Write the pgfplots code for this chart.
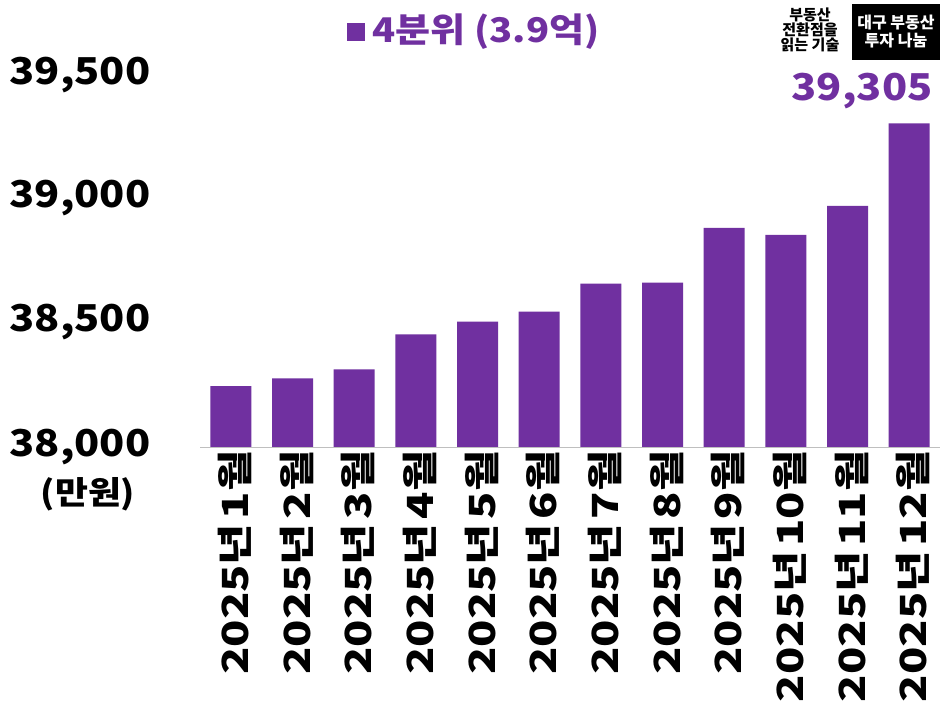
\documentclass[border=0pt]{standalone}
\usepackage{fontspec}
\setmainfont{Noto Sans CJK KR}
\newfontfamily\krw{Noto Sans CJK KR}[FakeStretch=1.25]
\newfontfamily\krn{Noto Sans CJK KR}[FakeStretch=1.12]
\usepackage{pgfplots}
\pgfplotsset{compat=1.18}
\definecolor{pur}{HTML}{7030A0}
\newcommand\s{\hspace{0.12em}}
\begin{document}
\begin{tikzpicture}[x=1pt,y=1pt]
\useasboundingbox[fill=white] (0,0) rectangle (951,712);
\begin{axis}[at={(200pt,265pt)},anchor=south west,scale only axis,width=740pt,height=372pt,
 ymin=38000,ymax=39500,xmin=-0.5,xmax=11.5,
 axis y line=none, axis x line*=bottom, x axis line style={gray!50,-},
 ytick={38000,38500,39000,39500}, xtick=data, major tick length=0pt,
 xticklabels={2025년\s1월,2025년\s2월,2025년\s3월,2025년\s4월,2025년\s5월,2025년\s6월,2025년\s7월,2025년\s8월,2025년\s9월,2025년\s10월,2025년\s11월,2025년\s12월},
 xticklabel style={rotate=90,anchor=east,font=\krw\fontsize{36}{36}\selectfont\bfseries,yshift=-4pt},
 /pgf/number format/assume math mode=true,
 clip=false]
\addplot[ybar,bar width=41pt,fill=pur,draw=none] coordinates {
(0,38245)(1,38277)(2,38313)(3,38454)(4,38506)(5,38546)(6,38659)(7,38663)(8,38884)(9,38855)(10,38972)(11,39305)};
\end{axis}
\node[anchor=east,text=pur,font=\krn\fontsize{37}{37}\selectfont\bfseries] at (936,621) {39,305};
\foreach \v/\yy in {38{,}000/265,38{,}500/390,39{,}000/514,39{,}500/637}
 \node[anchor=west,font=\krn\fontsize{37}{37}\selectfont\bfseries] at (6,\yy) {\v};
\node[font=\krn\fontsize{32}{32}\selectfont\bfseries] at (88,218) {(만원)};
\fill[pur] (347,671) rectangle (365,689);
\node[anchor=west,text=pur,font=\krn\fontsize{34}{34}\selectfont\bfseries] at (369,680) {4분위 (3.9억)};
\node[align=center,font=\fontsize{15}{15}\selectfont\bfseries,inner sep=0pt] at (810,682) {부동산\\전환점을\\읽는 기술};
\fill[black] (852,652) rectangle (940,708);
\node[align=center,text=white,font=\fontsize{16}{18}\selectfont\bfseries,inner sep=0pt] at (896,680) {대구 부동산\\투자 나눔};
\end{tikzpicture}
\end{document}
